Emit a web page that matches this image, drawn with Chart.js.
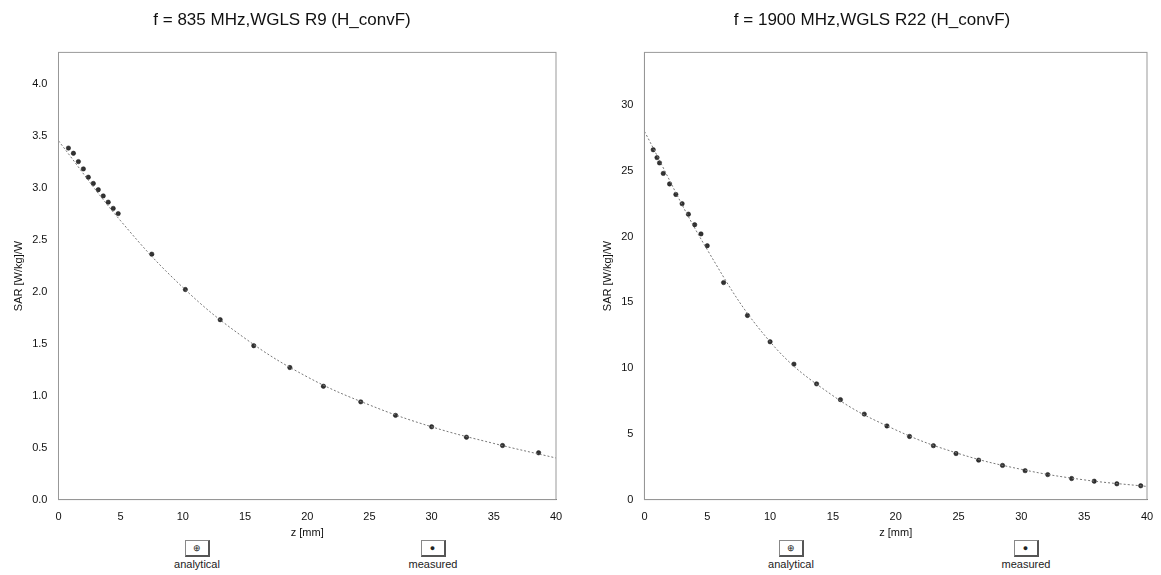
<!DOCTYPE html><html><head><meta charset="utf-8">
<script src="https://cdn.jsdelivr.net/npm/chart.js@4"></script>
<style>
body{margin:0;background:#fff;font-family:"Liberation Sans",Arial,sans-serif;width:1161px;height:575px;position:relative;overflow:hidden}
.c{position:absolute;top:0;height:540px}
.lg{position:absolute;top:540px;font-size:11px;color:#222;text-align:center;width:80px}
.lg span{display:block;margin:0 auto 1px;width:22px;height:14px;border:1px solid #888;border-right:2px solid #555;border-bottom:2px solid #555;font-size:9px;line-height:14px}
</style></head><body>
<div class="c" style="left:0;width:570px"><canvas id="a"></canvas></div>
<div class="c" style="left:585px;width:576px"><canvas id="b"></canvas></div>
<div class="lg" style="left:157px"><span>⊕</span>analytical</div>
<div class="lg" style="left:393px"><span>●</span>measured</div>
<div class="lg" style="left:751px"><span>⊕</span>analytical</div>
<div class="lg" style="left:986px"><span>●</span>measured</div>
<script>
const titleL="f = 835 MHz,WGLS R9 (H_convF)";
const titleR="f = 1900 MHz,WGLS R22 (H_convF)";
const anaZ=[0,5,10,15,20,25,30,35,40];
const anaL=[3.45,2.68,2.04,1.55,1.18,0.91,0.70,0.54,0.40];
const anaR=[28.0,19.0,12.0,7.9,5.3,3.5,2.3,1.5,1.0];
const measZL=[0.8,1.2,1.6,2.0,2.4,2.8,3.2,3.6,4.0,4.4,4.8,7.5,10.2,13.0,15.7,18.6,21.3,24.3,27.1,30.0,32.8,35.7,38.6];
const measL=[3.38,3.33,3.25,3.18,3.10,3.04,2.98,2.92,2.86,2.80,2.75,2.36,2.02,1.73,1.48,1.27,1.09,0.94,0.81,0.70,0.60,0.52,0.45];
const measZR=[0.7,1.0,1.2,1.5,2.0,2.5,3.0,3.5,4.0,4.5,5.0,6.3,8.2,10.0,11.9,13.7,15.6,17.5,19.3,21.1,23.0,24.8,26.6,28.5,30.3,32.1,34.0,35.8,37.6,39.5];
const measR=[26.6,26.0,25.6,24.8,24.0,23.2,22.5,21.7,20.9,20.2,19.3,16.5,14.0,12.0,10.3,8.8,7.6,6.5,5.6,4.8,4.1,3.5,3.0,2.6,2.2,1.9,1.6,1.4,1.2,1.05];
const frame={id:'frame',afterDraw(c){const a=c.chartArea,x=c.ctx;x.save();x.strokeStyle='#999';x.lineWidth=1;x.strokeRect(a.left,a.top,a.right-a.left,a.bottom-a.top);x.restore();}};
function mk(id,title,az,av,mz,mv,ymax,ystep,pad){
 new Chart(document.getElementById(id),{type:'scatter',plugins:[frame],
 data:{datasets:[
  {data:az.map((z,i)=>({x:z,y:av[i]})),showLine:true,tension:0.4,borderColor:'#777',borderWidth:1,borderDash:[2,2],pointRadius:0},
  {data:mz.map((z,i)=>({x:z,y:mv[i]})),pointRadius:2.2,pointBackgroundColor:'#333',pointBorderColor:'#111',borderWidth:0.5}]},
 options:{animation:false,responsive:true,maintainAspectRatio:false,
  layout:{padding:{left:pad,right:14,top:8,bottom:0}},
  plugins:{legend:{display:false},title:{display:true,text:title,color:'#111',font:{size:17,family:'Liberation Sans',weight:'normal'},padding:{top:2,bottom:22}}},
  scales:{x:{min:0,max:40,ticks:{stepSize:5,color:'#111',font:{size:11}},grid:{display:false},border:{color:'#777'},title:{display:true,text:'z [mm]',color:'#111',font:{size:11},padding:0}},
   y:{min:0,max:ymax,afterBuildTicks:s=>{s.ticks=s.ticks.filter(t=>Math.abs(t.value/ystep-Math.round(t.value/ystep))<1e-6);},
      ticks:{stepSize:ystep,color:'#111',font:{size:11},callback:v=>ystep<1?v.toFixed(1):v},grid:{display:false},border:{color:'#777'},title:{display:true,text:'SAR [W/kg]/W',color:'#111',font:{size:11}}}}}});
}
mk('a',titleL,anaZ,anaL,measZL,measL,4.3,0.5,8);
mk('b',titleR,anaZ,anaR,measZR,measR,34,5,12);
</script></body></html>
